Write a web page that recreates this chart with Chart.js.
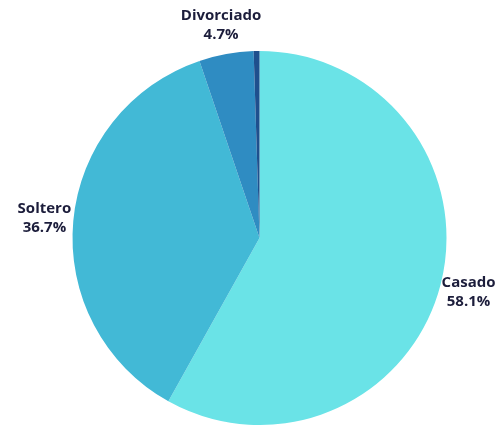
<!DOCTYPE html>
<html>
<head>
<meta charset="utf-8">
<script src="https://cdn.jsdelivr.net/npm/chart.js@4/dist/chart.umd.min.js"></script>
<style>
  html, body { margin: 0; padding: 0; background: #fff; }
  #wrap { width: 499px; height: 425px; }
</style>
</head>
<body>
<div id="wrap"><canvas id="estado"></canvas></div>
<script>
var categorias = ['Casado', 'Soltero', 'Divorciado', 'Viudo'];
var porcentajes = [58.1, 36.7, 4.7, 0.5];
var colores = ['#6ae3e7', '#42b9d6', '#2f8cc2', '#1f4f8d'];

// etiquetas fuera del pastel, en el ángulo medio de cada porción
var etiquetasFuera = {
	id: 'etiquetasFuera',
	afterDatasetsDraw: function (chart) {
		var ctx = chart.ctx;
		var meta = chart.getDatasetMeta(0);
		ctx.save();
		ctx.fillStyle = '#1c1d3b';
		ctx.font = 'bold 15px "Open Sans"';
		ctx.textAlign = 'center';
		ctx.textBaseline = 'middle';
		meta.data.forEach(function (arc, i) {
			if (porcentajes[i] < 1) return;
			var p = arc.getProps(['x', 'y', 'startAngle', 'endAngle', 'outerRadius'], true);
			var mid = (p.startAngle + p.endAngle) / 2;
			var d = p.outerRadius + 29;
			var x = p.x + Math.cos(mid) * d;
			var y = p.y + Math.sin(mid) * d;
			ctx.fillText(categorias[i], x, y - 9.5);
			ctx.fillText(porcentajes[i].toFixed(1) + '%', x, y + 9.5);
		});
		ctx.restore();
	}
};

var ctx = document.getElementById('estado');
var estado = new Chart(ctx, {
	type: 'pie',
	data: {
		labels: categorias,
		datasets: [
			{
				data: porcentajes,
				backgroundColor: colores,
				borderWidth: 0
			}]
	},
	options: {
		responsive: true,
		maintainAspectRatio: false,
		animation: false,
		layout: { padding: { top: 51, bottom: 0, left: 20, right: 0 } },
		plugins: {
			legend: { display: false },
			tooltip: { enabled: false }
		}
	},
	plugins: [etiquetasFuera]
});
</script>
</body>
</html>
